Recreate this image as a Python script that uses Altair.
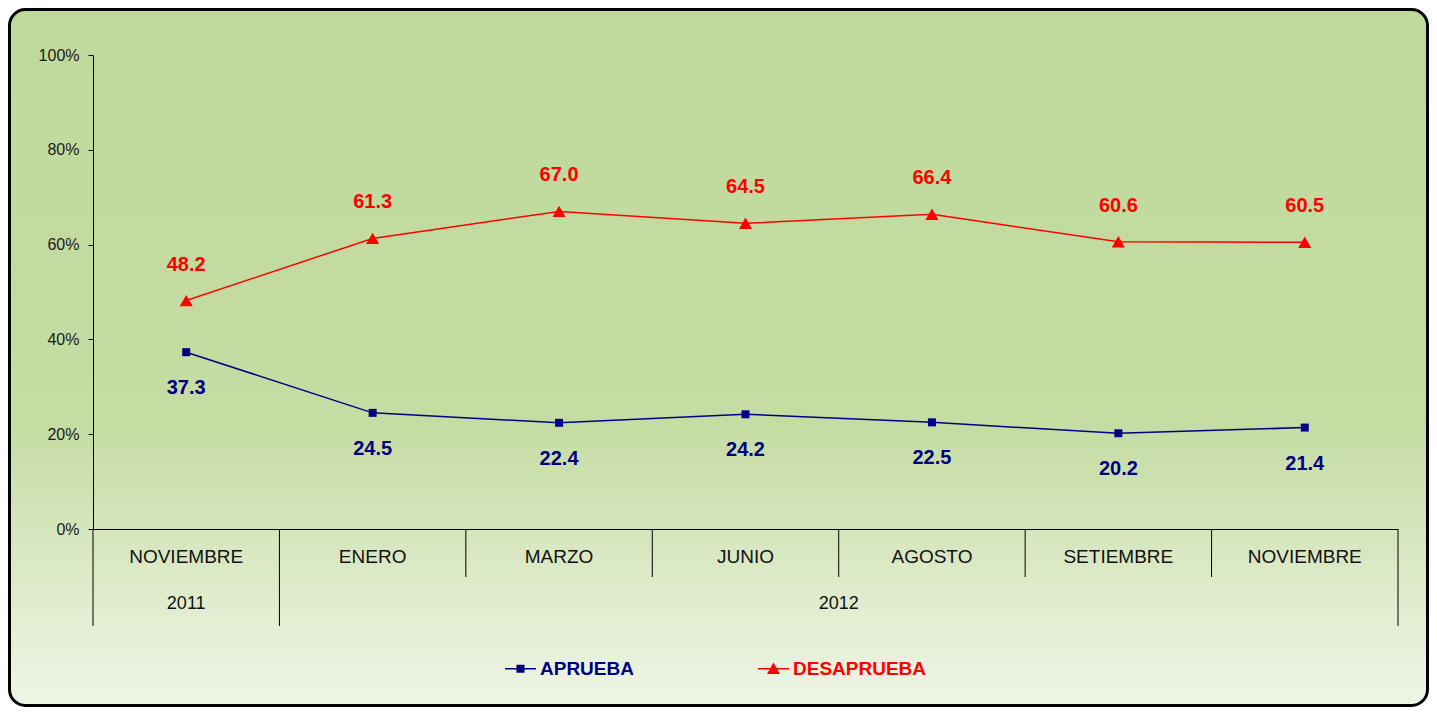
import altair as alt
import pandas as pd

# ---- data ----
months = ["NOVIEMBRE", "ENERO", "MARZO", "JUNIO", "AGOSTO", "SETIEMBRE", "NOVIEMBRE"]
aprueba = [37.3, 24.5, 22.4, 24.2, 22.5, 20.2, 21.4]
desaprueba = [48.2, 61.3, 67.0, 64.5, 66.4, 60.6, 60.5]
years = ["2011", "2012"]
year_first_month = [0, 1]      # index of the first month of each year
year_month_count = [1, 6]      # number of months in each year
series = ["APRUEBA", "DESAPRUEBA"]
colors = ["#000080", "#FF0000"]
y_ticks = [0, 20, 40, 60, 80, 100]

FONT = "Liberation Sans"
W, H = 1305, 474

# ---- tables built from the arrays ----
rows = []
for i, m in enumerate(months):
    rows.append({"pos": i + 0.5, "mes": m, "serie": series[0], "valor": aprueba[i]})
    rows.append({"pos": i + 0.5, "mes": m, "serie": series[1], "valor": desaprueba[i]})
df = pd.DataFrame(rows)
df_months = pd.DataFrame({"pos": [i + 0.5 for i in range(len(months))], "mes": months})
df_years = pd.DataFrame({
    "year": years,
    "mid": [s + c / 2 for s, c in zip(year_first_month, year_month_count)],
})
long_b = sorted(set(year_first_month + [s + c for s, c in zip(year_first_month, year_month_count)]))
short_b = [b for b in range(1, len(months)) if b not in long_b]
df_long = pd.DataFrame({"b": long_b})
df_short = pd.DataFrame({"b": short_b})

x_enc = alt.X("pos:Q", scale=alt.Scale(domain=[0, len(months)], nice=False, zero=False),
              axis=alt.Axis(labels=False, ticks=False, grid=False, title=None,
                            domainColor="black", domainWidth=1, zindex=2))
y_enc = alt.Y("valor:Q", scale=alt.Scale(domain=[0, 100], nice=False),
              axis=alt.Axis(values=y_ticks, labelExpr="datum.value + '%'", title=None,
                            grid=False, tickSize=5, tickColor="black", domainColor="black",
                            labelFont=FONT, labelFontSize=16, labelColor="#1a1a1a",
                            labelPadding=9, zindex=2))
color_scale = alt.Scale(domain=series, range=colors)

gradient = {
    "gradient": "linear", "x1": 0, "y1": 0, "x2": 0, "y2": 1,
    "stops": [
        {"offset": 0, "color": "#BFD99B"},
        {"offset": 0.6, "color": "#C5DCA3"},
        {"offset": 0.85, "color": "#E0ECCE"},
        {"offset": 1, "color": "#EFF5E6"},
    ],
}
bg = alt.Chart(pd.DataFrame({"a": [0]})).mark_rect(
    fill=gradient, stroke="black", strokeWidth=3, cornerRadius=16
).encode(x=alt.value(-83.5), x2=alt.value(W + 29.5), y=alt.value(-45.5), y2=alt.value(H + 176.5))

base = alt.Chart(df)
sel_a = alt.datum.serie == series[0]
sel_d = alt.datum.serie == series[1]

line_a = base.transform_filter(sel_a).mark_line(strokeWidth=1.5, color=colors[0]).encode(x=x_enc, y=y_enc)
line_d = base.transform_filter(sel_d).mark_line(strokeWidth=1.5, color=colors[1]).encode(x="pos:Q", y="valor:Q")
squares = base.transform_filter(sel_a).mark_point(
    shape="square", filled=True, size=64, opacity=1, color=colors[0]
).encode(x="pos:Q", y="valor:Q")
triangles = base.transform_filter(sel_d).mark_point(
    shape="triangle-up", filled=True, size=170, opacity=1, color=colors[1]
).encode(x="pos:Q", y="valor:Q")

lab_a = base.transform_filter(sel_a).mark_text(
    dy=36, font=FONT, fontSize=20, fontWeight="bold", color=colors[0]
).encode(x="pos:Q", y="valor:Q", text=alt.Text("valor:Q", format=".1f"))
lab_d = base.transform_filter(sel_d).mark_text(
    dy=-36, font=FONT, fontSize=20, fontWeight="bold", color=colors[1]
).encode(x="pos:Q", y="valor:Q", text=alt.Text("valor:Q", format=".1f"))

sep_short = alt.Chart(df_short).mark_rule(color="black", strokeWidth=1).encode(
    x="b:Q", y=alt.value(H), y2=alt.value(H + 48))
sep_long = alt.Chart(df_long).mark_rule(color="black", strokeWidth=1).encode(
    x="b:Q", y=alt.value(H), y2=alt.value(H + 97))

month_txt = alt.Chart(df_months).mark_text(font=FONT, fontSize=19, color="#111111").encode(
    x="pos:Q", y=alt.value(H + 28), text="mes:N")
year_txt = alt.Chart(df_years).mark_text(font=FONT, fontSize=18, color="#111111").encode(
    x="mid:Q", y=alt.value(H + 75), text="year:N")

path_a = "M-1,-0.05H1V0.05H-1Z M-0.26,-0.26H0.26V0.26H-0.26Z"
path_d = "M-1,-0.05H1V0.05H-1Z M0,-0.4L0.42,0.34H-0.42Z"
leg = alt.Legend(
    title=None, orient="none", legendX=412, legendY=598, direction="horizontal",
    symbolSize=961, symbolStrokeWidth=0, symbolOpacity=1,
    labelFont=FONT, labelFontSize=19, labelFontWeight="bold",
    labelColor={"expr": "datum.value == 'APRUEBA' ? '#000080' : '#FF0000'"},
    labelOffset=4, columnPadding=124, zindex=2,
)
legend_layer = base.transform_filter("false").mark_point(filled=True, opacity=1).encode(
    x="pos:Q", y="valor:Q",
    color=alt.Color("serie:N", scale=color_scale, legend=leg),
    shape=alt.Shape("serie:N", scale=alt.Scale(domain=series, range=[path_a, path_d]), legend=leg),
)

chart = alt.layer(
    bg, sep_short, sep_long, line_a, line_d, squares, triangles, lab_a, lab_d,
    month_txt, year_txt, legend_layer
).properties(
    width=W, height=H,
    autosize=alt.AutoSizeParams(type="none"),
    padding={"left": 85, "top": 47, "right": 31, "bottom": 178},
).configure_view(stroke=None)

chart.save("out.html", embed_options={"renderer": "svg", "actions": False})
